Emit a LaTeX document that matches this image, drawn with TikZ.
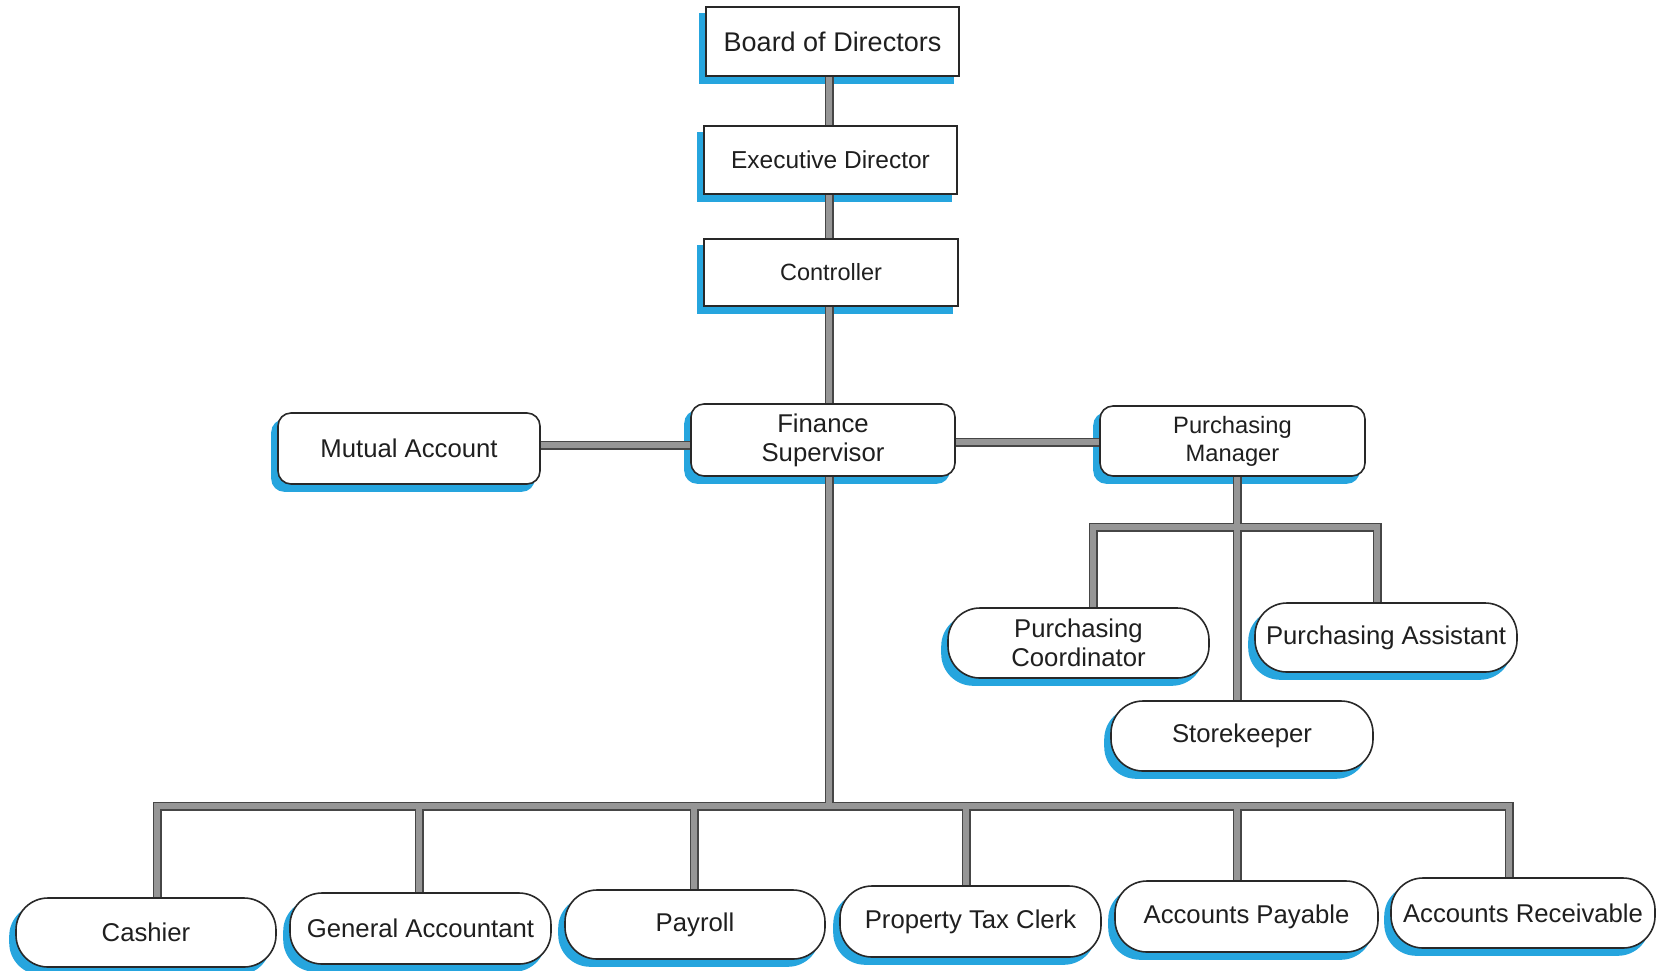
\documentclass[tikz,border=0pt]{standalone}
\usepackage{fontspec}
\setmainfont{Liberation Sans}
\usetikzlibrary{calc}
\pgfdeclarelayer{shadowlayer}
\pgfdeclarelayer{conlayer}
\pgfsetlayers{shadowlayer,conlayer,main}
\definecolor{shadowc}{RGB}{38,165,222}
\definecolor{edgec}{RGB}{40,40,40}
\definecolor{conedge}{RGB}{70,70,70}
\definecolor{confill}{RGB}{150,150,150}
\tikzset{
 base/.style={draw=edgec, line width=1.6pt, fill=white, inner sep=0pt, align=center, text=black!88, font={\fontsize{25.7}{29}\selectfont}},
 sqbox/.style={base},
 rrbox/.style={base, rounded corners=13pt},
 pillbox/.style={base, rounded corners=32pt},
 conout/.style={draw=conedge, line width=9pt, line join=miter},
 conin/.style={draw=confill, line width=5.5pt, line join=miter},
}
\newcommand\myshadow[2]{\fill[shadowc, rounded corners=#2] ([shift={(-6,7)}]#1.south west) rectangle ([shift={(-6,7)}]#1.north east);}
\newcommand\myconnectors[1]{%
 \draw[#1] (mx |- board.south) -- (mx |- exec.north);
 \draw[#1] (mx |- exec.south) -- (mx |- ctrl.north);
 \draw[#1] (mx |- ctrl.south) -- (mx |- fin.north);
 \draw[#1] (mx |- fin.south) -- (mx |- d1);
 \draw[#1] (mutual.east |- h1) -- (fin.west |- h1);
 \draw[#1] (fin.east |- h2) -- (pm.west |- h2);
 \draw[#1] (d1 |- cash.north) -- (d1) -- (d6) -- (d6 |- ar.north);
 \draw[#1] (d2) -- (d2 |- gen.north);
 \draw[#1] (d3) -- (d3 |- pay.north);
 \draw[#1] (d4) -- (d4 |- tax.north);
 \draw[#1] (d5) -- (d5 |- ap.north);
 \draw[#1] (p0 |- pm.south) -- (p0 |- store.north);
 \draw[#1] (pl |- coord.north) -- (pl) -- (pr) -- (pr |- assist.north);
}
\begin{document}
\begin{tikzpicture}[x=1pt, y=-1pt]
\useasboundingbox (0,0) rectangle (1661,970);
% nodes
\node[sqbox, minimum width=253pt, minimum height=69pt, font={\fontsize{27}{30}\selectfont}] (board) at (832.5,41.5) {Board of Directors};
\node[sqbox, minimum width=253pt, minimum height=68pt, font={\fontsize{24.5}{28}\selectfont}] (exec) at (830.5,160) {Executive Director};
\node[sqbox, minimum width=254pt, minimum height=67pt, font={\fontsize{23.5}{27}\selectfont}] (ctrl) at (831,272.5) {Controller};
\node[rrbox, minimum width=264pt, minimum height=72pt] (fin) at (823,440) {Finance\\Supervisor};
\node[rrbox, minimum width=262pt, minimum height=71pt] (mutual) at (409,448.5) {Mutual Account};
\node[rrbox, minimum width=265pt, minimum height=70pt, font={\fontsize{23.7}{28}\selectfont}] (pm) at (1232.5,441) {Purchasing\\Manager};
\node[pillbox, minimum width=261pt, minimum height=70pt] (coord) at (1078.5,643) {Purchasing\\Coordinator};
\node[pillbox, minimum width=262pt, minimum height=69pt] (assist) at (1386,637.5) {Purchasing Assistant};
\node[pillbox, minimum width=262pt, minimum height=70pt] (store) at (1242,736) {Storekeeper};
\node[pillbox, minimum width=260pt, minimum height=69pt] (cash) at (146,932.5) {Cashier};
\node[pillbox, minimum width=261pt, minimum height=71pt] (gen) at (420.5,928.5) {General Accountant};
\node[pillbox, minimum width=260pt, minimum height=69pt] (pay) at (695,924.5) {Payroll};
\node[pillbox, minimum width=261pt, minimum height=71pt] (tax) at (970.5,921.5) {Property Tax Clerk};
\node[pillbox, minimum width=263pt, minimum height=71pt] (ap) at (1246.5,916.5) {Accounts Payable};
\node[pillbox, minimum width=264pt, minimum height=70pt] (ar) at (1523,913) {Accounts Receivable};
% helper coordinates
\coordinate (mx) at (829,0);
\coordinate (h1) at (0,445);
\coordinate (h2) at (0,442);
\coordinate (d1) at (157,806);
\coordinate (d2) at (419,806);
\coordinate (d3) at (694,806);
\coordinate (d4) at (966,806);
\coordinate (d5) at (1237,806);
\coordinate (d6) at (1509,806);
\coordinate (p0) at (1237,527);
\coordinate (pl) at (1093,527);
\coordinate (pr) at (1377,527);
\begin{pgfonlayer}{shadowlayer}
\myshadow{board}{0pt}
\myshadow{exec}{0pt}
\myshadow{ctrl}{0pt}
\myshadow{fin}{13pt}
\myshadow{mutual}{13pt}
\myshadow{pm}{13pt}
\myshadow{coord}{32pt}
\myshadow{assist}{32pt}
\myshadow{store}{32pt}
\myshadow{cash}{32pt}
\myshadow{gen}{32pt}
\myshadow{pay}{32pt}
\myshadow{tax}{32pt}
\myshadow{ap}{32pt}
\myshadow{ar}{32pt}
\end{pgfonlayer}
\begin{pgfonlayer}{conlayer}
\myconnectors{conout}
\myconnectors{conin}
\end{pgfonlayer}
\end{tikzpicture}
\end{document}
